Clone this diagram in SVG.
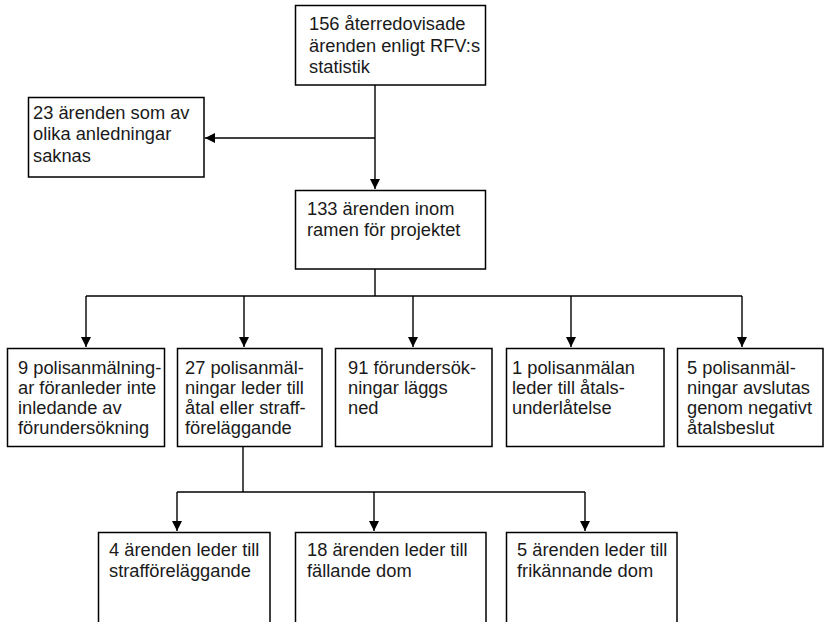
<svg xmlns="http://www.w3.org/2000/svg" width="829" height="622" viewBox="0 0 829 622">
<style>
.box{fill:#fff;stroke:#000;stroke-width:1.5}
.t{font-family:"Liberation Sans",Arial,sans-serif;font-size:18.3px;fill:#1a1a1a}
.c{fill:none;stroke:#000;stroke-width:1.4}
</style>
<defs>
<marker id="ah" viewBox="0 0 10 12" refX="10" refY="6" markerWidth="10" markerHeight="12" markerUnits="userSpaceOnUse" orient="auto">
<path d="M0,1 L10,6 L0,11 Z" fill="#000"/>
</marker>
</defs>
<rect width="829" height="622" fill="#fff"/>
<g id="connectors">
<line class="c" x1="375" y1="85" x2="375" y2="189" marker-end="url(#ah)"/>
<line class="c" x1="375" y1="138" x2="205" y2="138" marker-end="url(#ah)"/>
<polyline class="c" points="375,269 375,296"/>
<line class="c" x1="86" y1="296" x2="742" y2="296"/>
<line class="c" x1="86" y1="296" x2="86" y2="347" marker-end="url(#ah)"/>
<line class="c" x1="244" y1="296" x2="244" y2="347" marker-end="url(#ah)"/>
<line class="c" x1="413" y1="296" x2="413" y2="347" marker-end="url(#ah)"/>
<line class="c" x1="571" y1="296" x2="571" y2="347" marker-end="url(#ah)"/>
<line class="c" x1="742" y1="296" x2="742" y2="347" marker-end="url(#ah)"/>
<line class="c" x1="243" y1="447" x2="243" y2="492"/>
<line class="c" x1="177" y1="492" x2="585" y2="492"/>
<line class="c" x1="177" y1="492" x2="177" y2="531" marker-end="url(#ah)"/>
<line class="c" x1="374" y1="492" x2="374" y2="531" marker-end="url(#ah)"/>
<line class="c" x1="585" y1="492" x2="585" y2="531" marker-end="url(#ah)"/>
</g>
<g id="n156">
<rect class="box" x="295.5" y="5.5" width="190" height="79.5"/>
<text class="t" x="309" y="30"><tspan x="309">156 återredovisade</tspan><tspan x="309" dy="21.5">ärenden enligt RFV:s</tspan><tspan x="309" dy="21.5">statistik</tspan></text>
</g>
<g id="n23">
<rect class="box" x="28.5" y="97.5" width="175.5" height="79.5"/>
<text class="t" x="33" y="118.5"><tspan x="33">23 ärenden som av</tspan><tspan x="33" dy="21.5">olika anledningar</tspan><tspan x="33" dy="21.5">saknas</tspan></text>
</g>
<g id="n133">
<rect class="box" x="295.5" y="190.5" width="190" height="78.5"/>
<text class="t" x="307" y="215"><tspan x="307">133 ärenden inom</tspan><tspan x="307" dy="21">ramen för projektet</tspan></text>
</g>
<g id="n9">
<rect class="box" x="7.5" y="348.5" width="157" height="98"/>
<text class="t" x="18" y="373.5"><tspan x="18">9 polisanmälning-</tspan><tspan x="18" dy="20">ar föranleder inte</tspan><tspan x="18" dy="20">inledande av</tspan><tspan x="18" dy="20">förundersökning</tspan></text>
</g>
<g id="n27">
<rect class="box" x="177.5" y="348.5" width="144.5" height="98"/>
<text class="t" x="185" y="373.5"><tspan x="185">27 polisanmäl-</tspan><tspan x="185" dy="20">ningar leder till</tspan><tspan x="185" dy="20">åtal eller straff-</tspan><tspan x="185" dy="20">föreläggande</tspan></text>
</g>
<g id="n91">
<rect class="box" x="335.5" y="348.5" width="156.5" height="98"/>
<text class="t" x="348" y="373.5"><tspan x="348">91 förundersök-</tspan><tspan x="348" dy="20">ningar läggs</tspan><tspan x="348" dy="20">ned</tspan></text>
</g>
<g id="n1">
<rect class="box" x="506.5" y="348.5" width="157.5" height="98"/>
<text class="t" x="512" y="373.5"><tspan x="512">1 polisanmälan</tspan><tspan x="512" dy="20">leder till åtals-</tspan><tspan x="512" dy="20">underlåtelse</tspan></text>
</g>
<g id="n5a">
<rect class="box" x="677.5" y="348.5" width="145.5" height="98"/>
<text class="t" x="687" y="373.5"><tspan x="687">5 polisanmäl-</tspan><tspan x="687" dy="20">ningar avslutas</tspan><tspan x="687" dy="20">genom negativt</tspan><tspan x="687" dy="20">åtalsbeslut</tspan></text>
</g>
<g id="n4">
<rect class="box" x="98.5" y="532.5" width="171.5" height="100"/>
<text class="t" x="109" y="555.5"><tspan x="109">4 ärenden leder till</tspan><tspan x="109" dy="21.5">strafföreläggande</tspan></text>
</g>
<g id="n18">
<rect class="box" x="295.5" y="532.5" width="190.5" height="100"/>
<text class="t" x="307" y="555.5"><tspan x="307">18 ärenden leder till</tspan><tspan x="307" dy="21.5">fällande dom</tspan></text>
</g>
<g id="n5b">
<rect class="box" x="506.5" y="532.5" width="170.5" height="100"/>
<text class="t" x="517" y="555.5"><tspan x="517">5 ärenden leder till</tspan><tspan x="517" dy="21.5">frikännande dom</tspan></text>
</g>
</svg>
